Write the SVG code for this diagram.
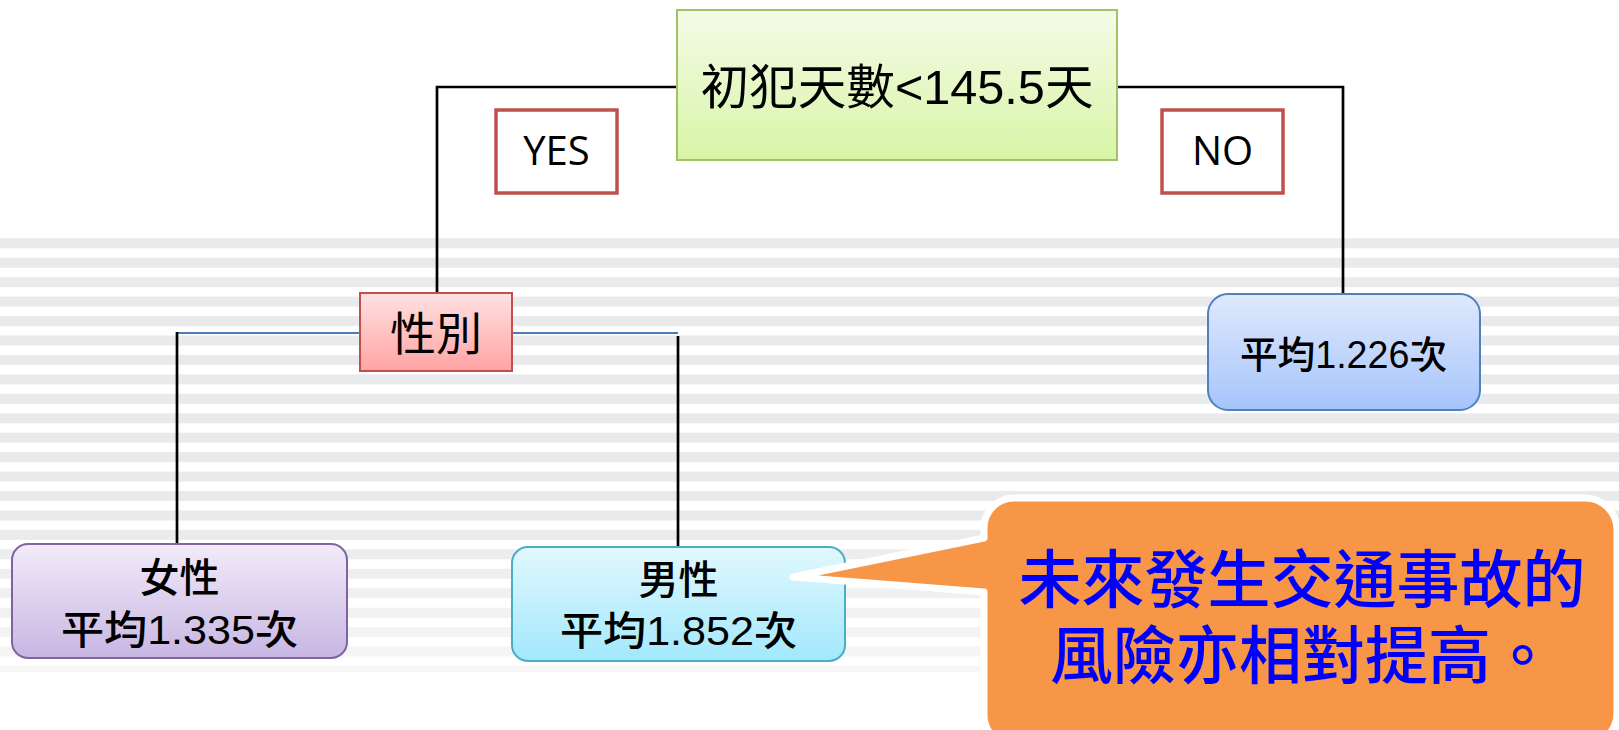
<svg xmlns="http://www.w3.org/2000/svg" width="1619" height="730" viewBox="0 0 1619 730">
  <style>
    .t { font-family: "Liberation Sans", "Noto Sans CJK TC", sans-serif; font-weight: 500; fill: #000; text-anchor: middle; }
    .reg { font-weight: 400; }
    .lbl { font-family: "Open Sans", "Liberation Sans", sans-serif; font-size: 40px; fill: #000; text-anchor: middle; }
    .lblbox { fill: #fff; stroke: #c0504d; stroke-width: 3.5; }
    .stripe { fill: #e9eaec; }
    .conn { fill: none; stroke: #000; stroke-width: 2.7; }
    .conn-blue { fill: none; stroke: #4a7ebb; stroke-width: 2.2; }
    .callout-text { font-family: "Noto Sans CJK TC", sans-serif; font-weight: 500; font-size: 63px; fill: #0000ff; text-anchor: middle; }
  </style>
  <defs>
    <linearGradient id="gRoot" x1="0" y1="0" x2="0" y2="1">
      <stop offset="0" stop-color="#f4fbe8"/>
      <stop offset="1" stop-color="#d8f5a6"/>
    </linearGradient>
    <linearGradient id="gRed" x1="0" y1="0" x2="0" y2="1">
      <stop offset="0" stop-color="#ffe2e2"/>
      <stop offset="1" stop-color="#ffa3a3"/>
    </linearGradient>
    <linearGradient id="gPurple" x1="0" y1="0" x2="0" y2="1">
      <stop offset="0" stop-color="#f1ebf9"/>
      <stop offset="1" stop-color="#c8b6e3"/>
    </linearGradient>
    <linearGradient id="gCyan" x1="0" y1="0" x2="0" y2="1">
      <stop offset="0" stop-color="#e1f8fe"/>
      <stop offset="1" stop-color="#a2e8fc"/>
    </linearGradient>
    <linearGradient id="gBlue" x1="0" y1="0" x2="0" y2="1">
      <stop offset="0" stop-color="#dfe9fd"/>
      <stop offset="1" stop-color="#a6c4fb"/>
    </linearGradient>
    <linearGradient id="gFade" x1="0" y1="0" x2="0" y2="1">
      <stop offset="0" stop-color="#fff" stop-opacity="0"/>
      <stop offset="1" stop-color="#fff" stop-opacity="0.65"/>
    </linearGradient>
  </defs>

  <rect x="0" y="0" width="1619" height="730" fill="#fff"/>

  <g id="background">
    <rect class="stripe" x="0" y="238.3" width="1619" height="10"/>
    <rect class="stripe" x="0" y="257.7" width="1619" height="10"/>
    <rect class="stripe" x="0" y="277.2" width="1619" height="10"/>
    <rect class="stripe" x="0" y="296.6" width="1619" height="10"/>
    <rect class="stripe" x="0" y="316.1" width="1619" height="10"/>
    <rect class="stripe" x="0" y="335.5" width="1619" height="10"/>
    <rect class="stripe" x="0" y="354.9" width="1619" height="10"/>
    <rect class="stripe" x="0" y="374.4" width="1619" height="10"/>
    <rect class="stripe" x="0" y="393.8" width="1619" height="10"/>
    <rect class="stripe" x="0" y="413.3" width="1619" height="10"/>
    <rect class="stripe" x="0" y="432.7" width="1619" height="10"/>
    <rect class="stripe" x="0" y="452.1" width="1619" height="10"/>
    <rect class="stripe" x="0" y="471.6" width="1619" height="10"/>
    <rect class="stripe" x="0" y="491.0" width="1619" height="10"/>
    <rect class="stripe" x="0" y="510.5" width="1619" height="10"/>
    <rect class="stripe" x="0" y="529.9" width="1619" height="10"/>
    <rect class="stripe" x="0" y="549.3" width="1619" height="10"/>
    <rect class="stripe" x="0" y="568.8" width="1619" height="10"/>
    <rect class="stripe" x="0" y="588.2" width="1619" height="10"/>
    <rect class="stripe" x="0" y="607.7" width="1619" height="10"/>
    <rect class="stripe" x="0" y="627.1" width="1619" height="10"/>
    <rect class="stripe" x="0" y="646.5" width="1619" height="10"/>
    <rect class="stripe" x="0" y="666.0" width="1619" height="6"/>
    <rect x="0" y="520" width="1619" height="160" fill="url(#gFade)"/>
  </g>

  <g id="connectors">
    <polyline class="conn" points="677,87 437,87 437,293"/>
    <polyline class="conn" points="1117,87 1343,87 1343,294"/>
    <line class="conn-blue" x1="177" y1="333" x2="678" y2="333"/>
    <polyline class="conn" points="177,332 177,544"/>
    <line class="conn" x1="678" y1="336" x2="678" y2="547"/>
  </g>

  <g id="node-root">
    <rect x="677" y="10" width="440" height="150" fill="url(#gRoot)" stroke="#a3c167" stroke-width="2"/>
    <text class="t reg" x="897" y="104" font-size="48" textLength="393" lengthAdjust="spacingAndGlyphs">初犯天數&lt;145.5天</text>
  </g>

  <g id="label-yes">
    <rect class="lblbox" x="496" y="110" width="121" height="83"/>
    <text class="lbl" x="556.5" y="165">YES</text>
  </g>

  <g id="label-no">
    <rect class="lblbox" x="1162" y="110" width="121" height="83"/>
    <text class="lbl" x="1222.5" y="165">NO</text>
  </g>

  <g id="node-gender">
    <rect x="360" y="293" width="152" height="78" fill="url(#gRed)" stroke="#c0504d" stroke-width="2"/>
    <text class="t reg" x="436" y="350" font-size="46">性別</text>
  </g>

  <g id="node-no">
    <rect x="1208" y="294" width="272" height="116" rx="20" ry="20" fill="url(#gBlue)" stroke="#4f81bd" stroke-width="2"/>
    <text class="t" x="1343.5" y="368" font-size="38" textLength="207" lengthAdjust="spacingAndGlyphs">平均1.226次</text>
  </g>

  <g id="node-female">
    <rect x="12" y="544" width="335" height="114" rx="16" ry="16" fill="url(#gPurple)" stroke="#8064a2" stroke-width="2"/>
    <text class="t" x="179.5" y="592" font-size="40">女性</text>
    <text class="t" x="179.5" y="644" font-size="40" textLength="237" lengthAdjust="spacingAndGlyphs">平均1.335次</text>
  </g>

  <g id="node-male">
    <rect x="512" y="547" width="333" height="114" rx="16" ry="16" fill="url(#gCyan)" stroke="#4bacc6" stroke-width="2"/>
    <text class="t" x="678.5" y="594" font-size="40">男性</text>
    <text class="t" x="678.5" y="645" font-size="40" textLength="237" lengthAdjust="spacingAndGlyphs">平均1.852次</text>
  </g>

  <g id="callout">
    <path d="M 1014,498 H 1585 A 32 32 0 0 1 1617,530 V 713 A 32 32 0 0 1 1585,745 H 1014 A 30 30 0 0 1 984,715 V 592 L 793,577 L 984,538 V 528 A 30 30 0 0 1 1014,498 Z" fill="#f79646" stroke="#fff" stroke-width="7" stroke-linejoin="round"/>
    <text class="callout-text" x="1302" y="602">未來發生交通事故的</text>
    <text class="callout-text" x="1302" y="678">風險亦相對提高。</text>
  </g>
</svg>
